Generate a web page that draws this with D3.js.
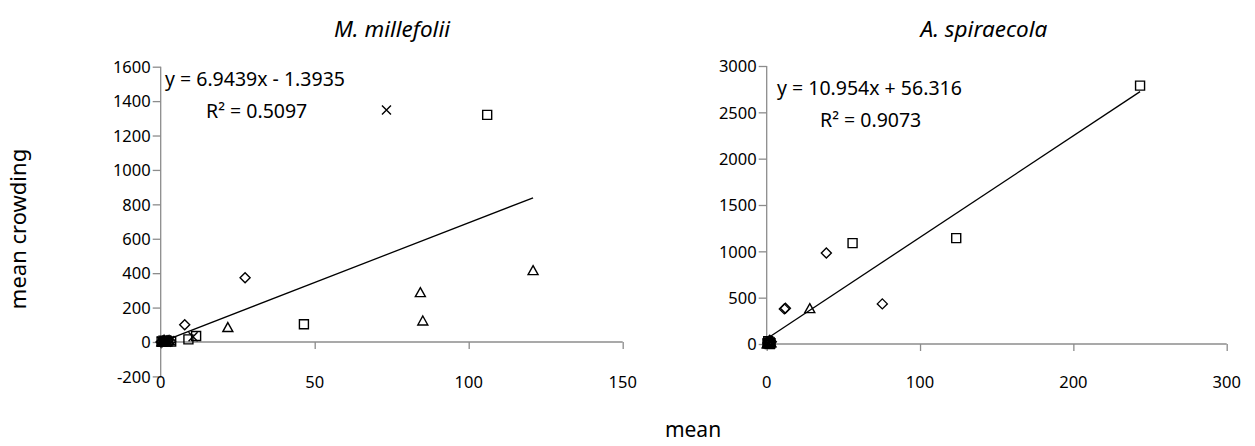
<!DOCTYPE html>
<html><head><meta charset="utf-8">
<script src="https://cdn.jsdelivr.net/npm/d3@7"></script>
<style>
body{margin:0;background:#fff}
svg text{font-family:"Noto Sans","Open Sans",sans-serif;fill:#000}
</style></head><body>
<svg id="chart" width="1255" height="446"></svg>
<script>
// ---- M. millefolii : mean vs mean crowding, one array per marker series ----
const mmDiamondX  = [27.4, 7.8, 0.5, 1.2, 2.4, 3.2, 0.1];
const mmDiamondY  = [373, 100, 2, 6, 8, 4, 0];
const mmSquareX   = [106, 46.5, 9, 11.5, 0.3, 1.5, 2.2, 0.9, 3.4];
const mmSquareY   = [1320, 103, 15, 35, 1, 4, 3, 8, 2];
const mmTriangleX = [120.9, 84.3, 85.1, 21.8, 0.4, 1.8, 2.8, 1.1];
const mmTriangleY = [415, 287, 122, 84, 0.5, 5, 7, 10];
const mmCrossX    = [73.3, 10.5, 0.6, 1.6, 3.0, 2.0, 0.2];
const mmCrossY    = [1349, 30, 1, 3, 9, 12, 6];
const mmFit       = [6.9439, -1.3935];          // slope, intercept
const mmFitLabel  = ["y = 6.9439x - 1.3935", "R\u00B2 = 0.5097"];
const mmXTicks    = [0, 50, 100, 150];
const mmYTicks    = [-200, 0, 200, 400, 600, 800, 1000, 1200, 1400, 1600];

// ---- A. spiraecola ----
const asDiamondX  = [38.9, 75.4, 11.5, 12.2, 2.0, 0.8, 3.0];
const asDiamondY  = [981, 433, 379, 386, 40, 10, 25];
const asSquareX   = [243.5, 123.6, 56, 0.5, 1.5, 2.5, 1.0, 2.0];
const asSquareY   = [2788, 1143, 1089, 5, 15, 8, 30, 0];
const asTriangleX = [28.1, 0.3, 1.2, 2.8];
const asTriangleY = [382, 3, 20, 12];
const asCrossX    = [1.0, 2.2, 0.4, 1.6];
const asCrossY    = [6, 25, 12, 2];
const asFit       = [10.954, 56.316];
const asFitLabel  = ["y = 10.954x + 56.316", "R\u00B2 = 0.9073"];
const asXTicks    = [0, 100, 200, 300];
const asYTicks    = [0, 500, 1000, 1500, 2000, 2500, 3000];

const titles = ["M. millefolii", "A. spiraecola"];

// ---- marker shapes ----
const shapes = {
  square:   {draw(c){ const h=4.5; c.rect(-h,-h,2*h,2*h); }},
  diamond:  {draw(c){ const h=5; c.moveTo(0,-h); c.lineTo(h,0); c.lineTo(0,h); c.lineTo(-h,0); c.closePath(); }},
  triangle: {draw(c){ c.moveTo(0,-5); c.lineTo(5,4); c.lineTo(-5,4); c.closePath(); }},
  cross:    {draw(c){ const h=4.5; c.moveTo(-h,-h); c.lineTo(h,h); c.moveTo(h,-h); c.lineTo(-h,h); }}
};

const svg = d3.select("#chart");
const axisColor = "#8c8c8c";

function panel(cfg){
  const x = d3.scaleLinear().domain(cfg.xDomain).range(cfg.xRange);
  const y = d3.scaleLinear().domain(cfg.yDomain).range(cfg.yRange);
  const g = svg.append("g");

  // y axis at x = 0
  const ya = g.append("g").attr("transform", `translate(${x(0)},0)`)
    .call(d3.axisLeft(y).tickValues(cfg.yTicks).tickSize(8).tickPadding(2).tickFormat(d => String(d)));
  // x axis at y = 0
  const xa = g.append("g").attr("transform", `translate(0,${y(0)})`)
    .call(d3.axisBottom(x).tickValues(cfg.xTicks).tickSize(7).tickFormat(() => ""));
  [ya, xa].forEach(a => {
    a.attr("font-family", null).attr("font-size", null);
    a.select(".domain").attr("stroke", axisColor).attr("stroke-width", 1.3);
    a.selectAll(".tick line").attr("stroke", axisColor).attr("stroke-width", 1.3);
  });
  ya.selectAll(".tick text").attr("font-size", 16.5).attr("fill", "#000").attr("dy", "0.35em");
  ya.select(".domain").attr("d", `M0,${y.range()[0]}V${y.range()[1]}`);
  xa.select(".domain").attr("d", `M${x.range()[0]},0H${x.range()[1]}`);

  // x tick labels sit below the plot, not beside the zero line
  g.selectAll(".xlab").data(cfg.xTicks).join("text")
    .attr("x", d => x(d)).attr("y", cfg.xLabelY)
    .attr("text-anchor", "middle").attr("font-size", 16.5).text(d => d);

  // trend line over the data's x extent
  const allX = cfg.series.flatMap(s => s.xs);
  const [x0, x1] = d3.extent(allX);
  const f = v => cfg.fit[0] * v + cfg.fit[1];
  g.append("line")
    .attr("x1", x(x0)).attr("y1", y(f(x0)))
    .attr("x2", x(x1)).attr("y2", y(f(x1)))
    .attr("stroke", "#000").attr("stroke-width", 1.3);

  // markers
  cfg.series.forEach(s => {
    const pts = s.xs.map((v, i) => [v, s.ys[i]]);
    g.selectAll(null).data(pts).join("path")
      .attr("transform", d => `translate(${x(d[0])},${y(d[1])})`)
      .attr("d", d3.symbol().type(shapes[s.shape])())
      .attr("fill", "none").attr("stroke", "#000").attr("stroke-width", 1.4);
  });

  // equation and R²
  g.append("text").attr("x", cfg.eqPos[0]).attr("y", cfg.eqPos[1])
    .attr("font-size", 19.5).text(cfg.fitLabel[0]);
  g.append("text").attr("x", cfg.r2Pos[0]).attr("y", cfg.r2Pos[1])
    .attr("font-size", 19.5).text(cfg.fitLabel[1]);

  // title
  g.append("text").attr("x", cfg.titleX).attr("y", 37)
    .attr("text-anchor", "middle").attr("font-size", 22.5)
    .attr("font-style", "italic").text(cfg.title);
}

panel({
  xDomain: [0, 150], xRange: [160.7, 622.7],
  yDomain: [-200, 1600], yRange: [376.4, 66.7],
  xTicks: mmXTicks, yTicks: mmYTicks, xLabelY: 388,
  fit: mmFit, fitLabel: mmFitLabel,
  eqPos: [165, 86], r2Pos: [206, 118],
  title: titles[0], titleX: 392,
  series: [
    {shape: "diamond",  xs: mmDiamondX,  ys: mmDiamondY},
    {shape: "square",   xs: mmSquareX,   ys: mmSquareY},
    {shape: "triangle", xs: mmTriangleX, ys: mmTriangleY},
    {shape: "cross",    xs: mmCrossX,    ys: mmCrossY}
  ]
});

panel({
  xDomain: [0, 300], xRange: [766.7, 1226.7],
  yDomain: [0, 3000], yRange: [344, 66],
  xTicks: asXTicks, yTicks: asYTicks, xLabelY: 388,
  fit: asFit, fitLabel: asFitLabel,
  eqPos: [777, 95], r2Pos: [820, 127],
  title: titles[1], titleX: 984,
  series: [
    {shape: "diamond",  xs: asDiamondX,  ys: asDiamondY},
    {shape: "square",   xs: asSquareX,   ys: asSquareY},
    {shape: "triangle", xs: asTriangleX, ys: asTriangleY},
    {shape: "cross",    xs: asCrossX,    ys: asCrossY}
  ]
});

// shared axis titles
svg.append("text").attr("transform", "translate(26,229) rotate(-90)")
  .attr("text-anchor", "middle").attr("font-size", 22).text("mean crowding");
svg.append("text").attr("x", 693).attr("y", 437)
  .attr("text-anchor", "middle").attr("font-size", 21).text("mean");
</script>
</body></html>
